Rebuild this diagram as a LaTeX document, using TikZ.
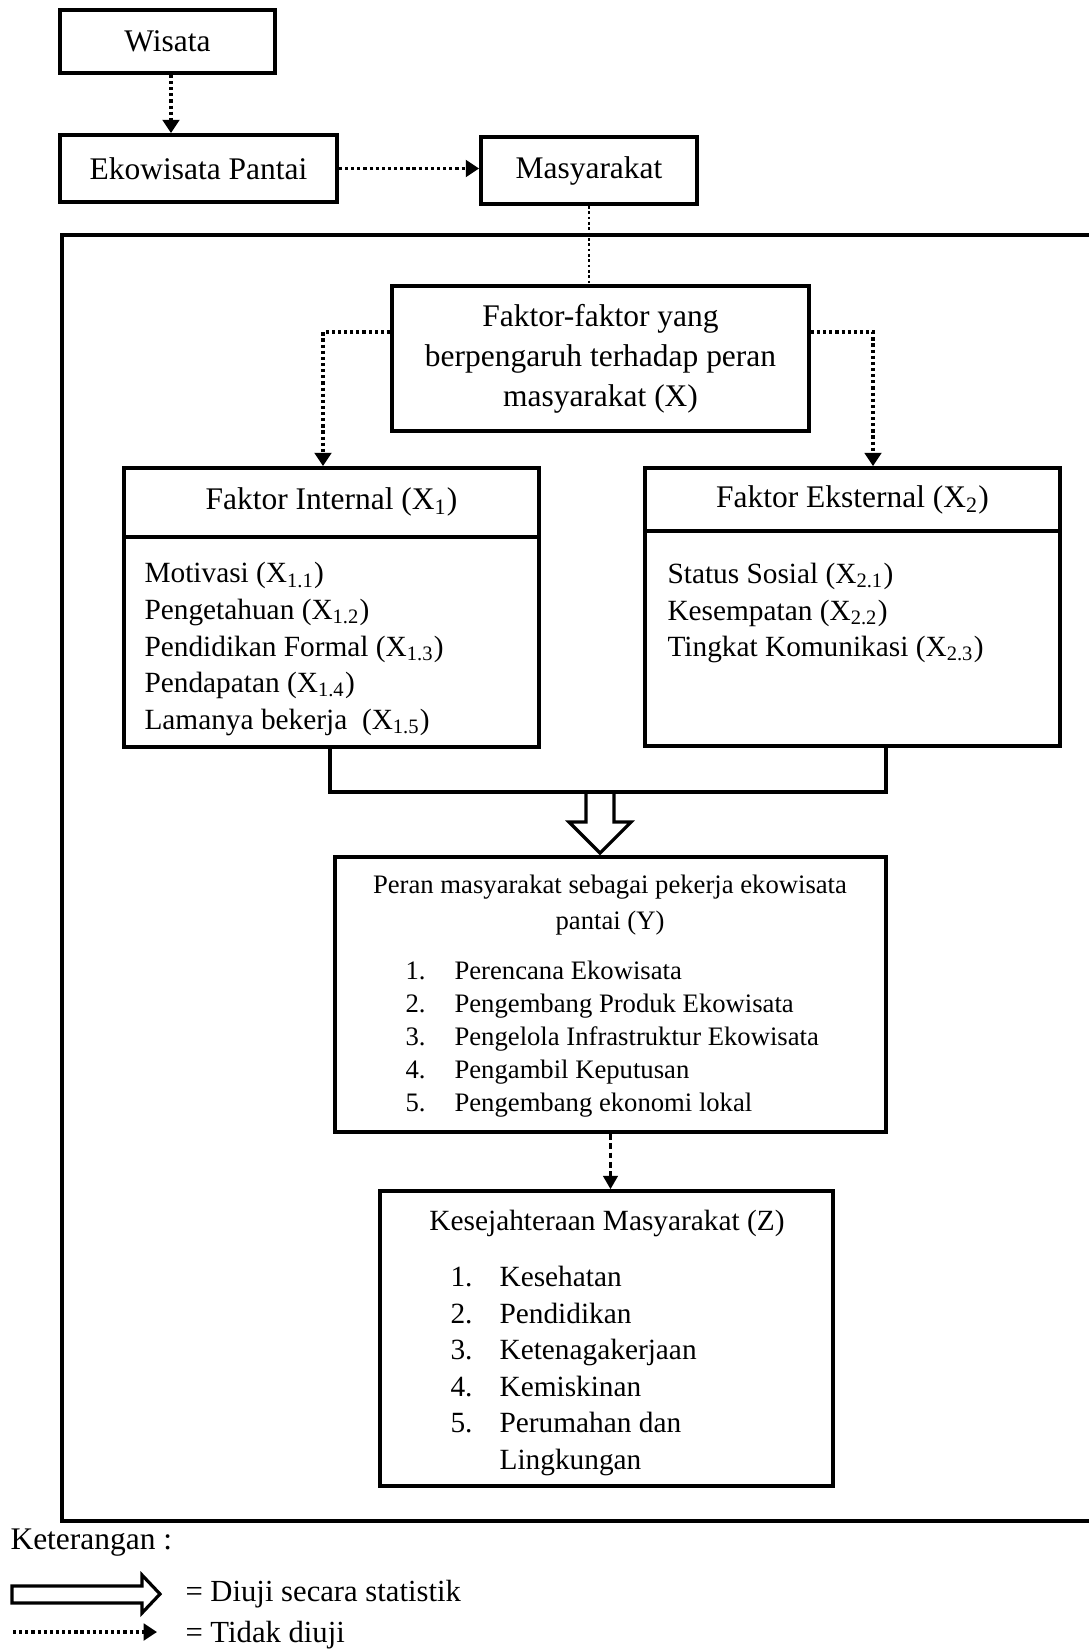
\documentclass[tikz,border=0pt]{standalone}
\usepackage{fontspec}
\setmainfont{Liberation Serif}
\usetikzlibrary{arrows.meta}
\newcommand\fmain{\fontsize{11.8}{15}\selectfont}
\newcommand\fitem{\fontsize{11}{13.7}\selectfont}
\newcommand\fyy{\fontsize{10}{12.4}\selectfont}
\newcommand\fzz{\fontsize{11}{13.7}\selectfont}
\newcommand\fleg{\fontsize{11.5}{14}\selectfont}
\newcommand\numy[1]{\makebox[18.4pt][l]{#1}}
\begin{document}
\begin{tikzpicture}[x=0.375pt,y=-0.375pt,
  bx/.style 2 args={draw,line width=1.4pt,inner sep=0pt,
    minimum width=#1*0.375pt,minimum height=#2*0.375pt},
  conn/.style={line width=1.2pt},
  dotarrow/.style={line width=1.3pt,dash pattern=on 1.2pt off 1.1pt,
    -{Triangle[length=5pt,width=6.2pt]}},
  thindot/.style={line width=0.8pt,dash pattern=on 1pt off 1pt},
  dasharrow/.style={line width=0.9pt,dash pattern=on 2.2pt off 1.3pt,
    -{Triangle[length=5pt,width=5.5pt]}},
  every node/.style={inner sep=0pt}
]
\useasboundingbox (0,0) rectangle (1088,1650);

% outer frame (right side runs past the page)
\draw[line width=1.6pt] (1100,235) -- (62,235) -- (62,1521) -- (1100,1521);

% top boxes
\node[bx={215}{63},font=\fmain] (wisata) at (167.5,41.5) {Wisata};
\node[bx={277}{67},font=\fmain] (eko) at (198.5,168.5) {Ekowisata Pantai};
\node[bx={216}{67},font=\fmain] (masy) at (589,170.5) {Masyarakat};
\node[bx={417}{145},font=\fmain,align=center] (faktor) at (600.5,358.5)
  {Faktor-faktor yang\\berpengaruh terhadap peran\\masyarakat (X)};

% factor boxes
\node[bx={415}{279}] (internal) at (331.5,607.5) {};
\node[font=\fmain] (inttitle) at (331.5,502) {Faktor Internal (X\textsubscript{1})};
\draw[conn] (internal.west |- 0,537) -- (internal.east |- 0,537);
\node[font=\fitem,align=left,anchor=west] (intitems) at (144,649)
  {Motivasi (X\textsubscript{1.1})\\
   Pengetahuan (X\textsubscript{1.2})\\
   Pendidikan Formal (X\textsubscript{1.3})\\
   Pendapatan (X\textsubscript{1.4})\\
   Lamanya bekerja~ (X\textsubscript{1.5})};

\node[bx={415}{278}] (eksternal) at (852.5,607) {};
\node[font=\fmain] (exttitle) at (852.5,500) {Faktor Eksternal (X\textsubscript{2})};
\draw[conn] (eksternal.west |- 0,531) -- (eksternal.east |- 0,531);
\node[font=\fitem,align=left,anchor=west] (extitems) at (667,613)
  {Status Sosial (X\textsubscript{2.1})\\
   Kesempatan (X\textsubscript{2.2})\\
   Tingkat Komunikasi (X\textsubscript{2.3})};

% Y box
\node[bx={551}{275}] (Y) at (610.5,994.5) {};
\node[font=\fontsize{10}{13.5}\selectfont,align=center] (ytitle) at (610,905)
  {Peran masyarakat sebagai pekerja ekowisata\\pantai (Y)};
\node[font=\fyy,align=left,anchor=west] (yitems) at (405,1039)
  {\numy{1.}Perencana Ekowisata\\
   \numy{2.}Pengembang Produk Ekowisata\\
   \numy{3.}Pengelola Infrastruktur Ekowisata\\
   \numy{4.}Pengambil Keputusan\\
   \numy{5.}Pengembang ekonomi lokal};

% Z box
\node[bx={453}{295}] (Z) at (606.5,1338.5) {};
\node[font=\fzz] (ztitle) at (607,1223) {Kesejahteraan Masyarakat (Z)};
\node[font=\fzz,align=left,anchor=west] (zitems) at (450,1371)
  {\numy{1.}Kesehatan\\
   \numy{2.}Pendidikan\\
   \numy{3.}Ketenagakerjaan\\
   \numy{4.}Kemiskinan\\
   \numy{5.}Perumahan dan\\
   \numy{}Lingkungan};

% connectors
\coordinate (c1) at (171,0);
\draw[dotarrow] (wisata.south -| c1) -- (eko.north -| c1);
\draw[dotarrow] (eko.east) -- (masy.west |- eko.east);
\draw[thindot] (masy.south) -- (masy.south |- faktor.north);
\coordinate (fl) at (323,332);
\coordinate (fr) at (873,332);
\draw[dotarrow] (faktor.west |- fl) -| (internal.north -| fl);
\draw[dotarrow] (faktor.east |- fr) -| (eksternal.north -| fr);

\coordinate (jl) at (330,792);
\coordinate (jr) at (886,792);
\draw[conn] (internal.south -| jl) -- (jl) -- (jr) -- (eksternal.south -| jr);
% hollow arrow into Y
\draw[conn,line join=miter] (586,792) -- (586,822) -- (569,822) -- (600,853)
  -- (631,822) -- (614,822) -- (614,792);

\draw[dasharrow] (Y.south) -- (Y.south |- Z.north);

% legend
\node[font=\fmain,anchor=west] (ket) at (10,1543) {Keterangan :};
\draw[conn,line join=miter] (12,1586) -- (142,1586) -- (142,1575) -- (160,1594)
  -- (142,1613) -- (142,1603) -- (12,1603) -- cycle;
\node[font=\fleg,anchor=west] (l1) at (185,1594) {= Diuji secara statistik};
\coordinate (d1) at (13,1632);
\coordinate (d2) at (157,1632);
\draw[dotarrow] (d1) -- (d2);
\node[font=\fleg,anchor=west] (l2) at (185,1635) {= Tidak diuji};
\end{tikzpicture}
\end{document}
